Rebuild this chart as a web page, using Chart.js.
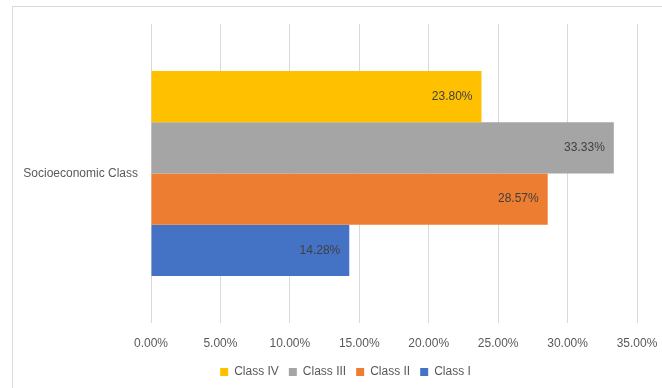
<!DOCTYPE html>
<html>
<head>
<meta charset="utf-8">
<script src="https://cdn.jsdelivr.net/npm/chart.js@4/dist/chart.umd.min.js"></script>
<style>
  html, body { margin: 0; padding: 0; background: #fff; overflow: hidden; }
  .frame {
    position: absolute; left: 12px; top: 6px; width: 660px; height: 400px;
    border-top: 1px solid #d9d9d9; border-left: 1px solid #d9d9d9;
  }
  .wrap { position: absolute; left: 0; top: 0; width: 662px; height: 388px; }
</style>
</head>
<body>
<div class="frame"></div>
<div class="wrap"><canvas id="chart" width="662" height="388"></canvas></div>
<script>
// chart data
const categories = ["Socioeconomic Class"]
const seriesNames = ["Class IV", "Class III", "Class II", "Class I"]
const seriesValues = [[23.80], [33.33], [28.57], [14.28]]
const seriesColors = ["#FFC000", "#A5A5A5", "#ED7D31", "#4472C4"]
const xTicks = [0, 5, 10, 15, 20, 25, 30, 35]

const FONT = "'Liberation Sans', Arial, sans-serif"

// value labels inside the end of each bar
const barLabels = {
  id: "barLabels",
  afterLayout(chart) {
    // legend sits a bit right of centre in the original
    chart.legend.left += 21
    chart.legend.right += 21
  },
  afterDatasetsDraw(chart) {
    const ctx = chart.ctx
    ctx.save()
    ctx.font = "12px " + FONT
    ctx.fillStyle = "#404040"
    ctx.textAlign = "right"
    ctx.textBaseline = "middle"
    chart.data.datasets.forEach((ds, i) => {
      chart.getDatasetMeta(i).data.forEach((bar, j) => {
        ctx.fillText(ds.data[j].toFixed(2) + "%", bar.x - 9, bar.y)
      })
    })
    ctx.restore()
  },
}

new Chart(document.getElementById("chart"), {
  type: "bar",
  data: {
    labels: categories,
    datasets: seriesNames.map((name, i) => ({
      label: name,
      data: seriesValues[i],
      backgroundColor: seriesColors[i],
      borderWidth: 0,
      barPercentage: 1,
      categoryPercentage: 0.686,
    })),
  },
  options: {
    indexAxis: "y",
    responsive: false,
    animation: false,
    layout: { padding: { top: 24, left: 12, right: 25, bottom: 0 } },
    plugins: {
      legend: {
        position: "bottom",
        labels: {
          boxWidth: 8,
          boxHeight: 8,
          padding: 10,
          color: "#595959",
          font: { size: 12, family: FONT },
        },
      },
      tooltip: { enabled: false },
    },
    scales: {
      x: {
        min: 0,
        max: 35,
        afterBuildTicks: (axis) => {
          axis.ticks = xTicks.map((v) => ({ value: v }))
        },
        afterFit: (axis) => {
          axis.height = 33
          axis.paddingLeft = 0
          axis.paddingRight = 0
        },
        grid: { color: "#d9d9d9", drawTicks: false },
        border: { display: false },
        ticks: {
          padding: 13,
          color: "#595959",
          font: { size: 12, family: FONT },
          callback: (value) => value.toFixed(2) + "%",
        },
      },
      y: {
        afterFit: (axis) => {
          axis.width = 139
        },
        grid: { display: false },
        border: { display: false },
        ticks: {
          padding: 5,
          color: "#595959",
          font: { size: 12, family: FONT },
        },
      },
    },
  },
  plugins: [barLabels],
})
</script>
</body>
</html>
